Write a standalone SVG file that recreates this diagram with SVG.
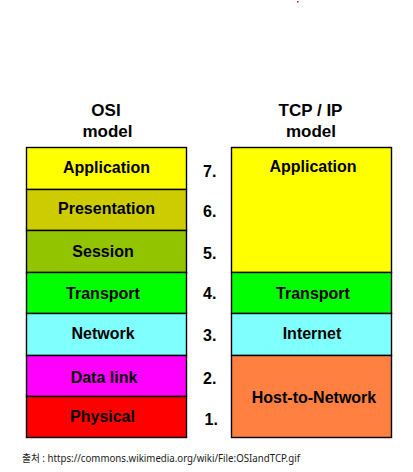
<svg xmlns="http://www.w3.org/2000/svg" width="413" height="472" viewBox="0 0 413 472">
<style>
.box{stroke:#000;stroke-width:1.4}
.h{font-family:"Liberation Sans",Arial,sans-serif;font-weight:bold;font-size:17px;fill:#000;text-anchor:middle}
.t{font-family:"Liberation Sans",Arial,sans-serif;font-weight:bold;font-size:16px;fill:#000;text-anchor:middle}
.n{font-family:"Liberation Sans",Arial,sans-serif;font-weight:bold;font-size:16px;fill:#000}
.src{font-family:"Noto Sans","Noto Sans CJK KR",sans-serif;font-size:10.5px;fill:#1a1a1a}
</style>
<rect width="413" height="472" fill="#fff"/>
<rect x="297" y="1" width="1.5" height="1.5" fill="#e00"/>
<g id="headings">
<text class="h" x="106" y="116">OSI</text>
<text class="h" x="107.5" y="136.5">model</text>
<text class="h" x="310.5" y="116">TCP / IP</text>
<text class="h" x="311" y="136.5">model</text>
</g>
<g id="osi-application"><rect class="box" x="26.5" y="147.5" width="160" height="42" fill="#ffff00"/><text class="t" x="106.5" y="172.5">Application</text></g>
<g id="osi-presentation"><rect class="box" x="26.5" y="189.5" width="160" height="41" fill="#cccc00"/><text class="t" x="106.5" y="213.5">Presentation</text></g>
<g id="osi-session"><rect class="box" x="26.5" y="230.5" width="160" height="42" fill="#92c400"/><text class="t" x="103" y="256.5">Session</text></g>
<g id="osi-transport"><rect class="box" x="26.5" y="272.5" width="160" height="41" fill="#00ff00"/><text class="t" x="103" y="298.5">Transport</text></g>
<g id="osi-network"><rect class="box" x="26.5" y="313.5" width="160" height="42" fill="#80ffff"/><text class="t" x="103" y="339">Network</text></g>
<g id="osi-datalink"><rect class="box" x="26.5" y="355.5" width="160" height="41" fill="#ff00ff"/><text class="t" x="104" y="382.5">Data link</text></g>
<g id="osi-physical"><rect class="box" x="26.5" y="396.5" width="160" height="41" fill="#ff0000"/><text class="t" x="102.5" y="421.5">Physical</text></g>
<g id="numbers">
<text class="n" x="203" y="176.5">7.</text>
<text class="n" x="203" y="216.5">6.</text>
<text class="n" x="203" y="258.5">5.</text>
<text class="n" x="203" y="299">4.</text>
<text class="n" x="203" y="340.5">3.</text>
<text class="n" x="203" y="384">2.</text>
<text class="n" x="204.5" y="425">1.</text>
</g>
<g id="tcp-application"><rect class="box" x="231.5" y="147.5" width="160" height="125" fill="#ffff00"/><text class="t" x="313" y="172">Application</text></g>
<g id="tcp-transport"><rect class="box" x="231.5" y="272.5" width="160" height="41" fill="#00ff00"/><text class="t" x="313" y="298.5">Transport</text></g>
<g id="tcp-internet"><rect class="box" x="231.5" y="313.5" width="160" height="42" fill="#80ffff"/><text class="t" x="312" y="339">Internet</text></g>
<g id="tcp-host"><rect class="box" x="231.5" y="355.5" width="160" height="82" fill="#ff8040"/><text class="t" x="314" y="403">Host-to-Network</text></g>
<text class="src" x="22" y="461.5" textLength="278" lengthAdjust="spacingAndGlyphs">출처 : https://commons.wikimedia.org/wiki/File:OSIandTCP.gif</text>
</svg>
